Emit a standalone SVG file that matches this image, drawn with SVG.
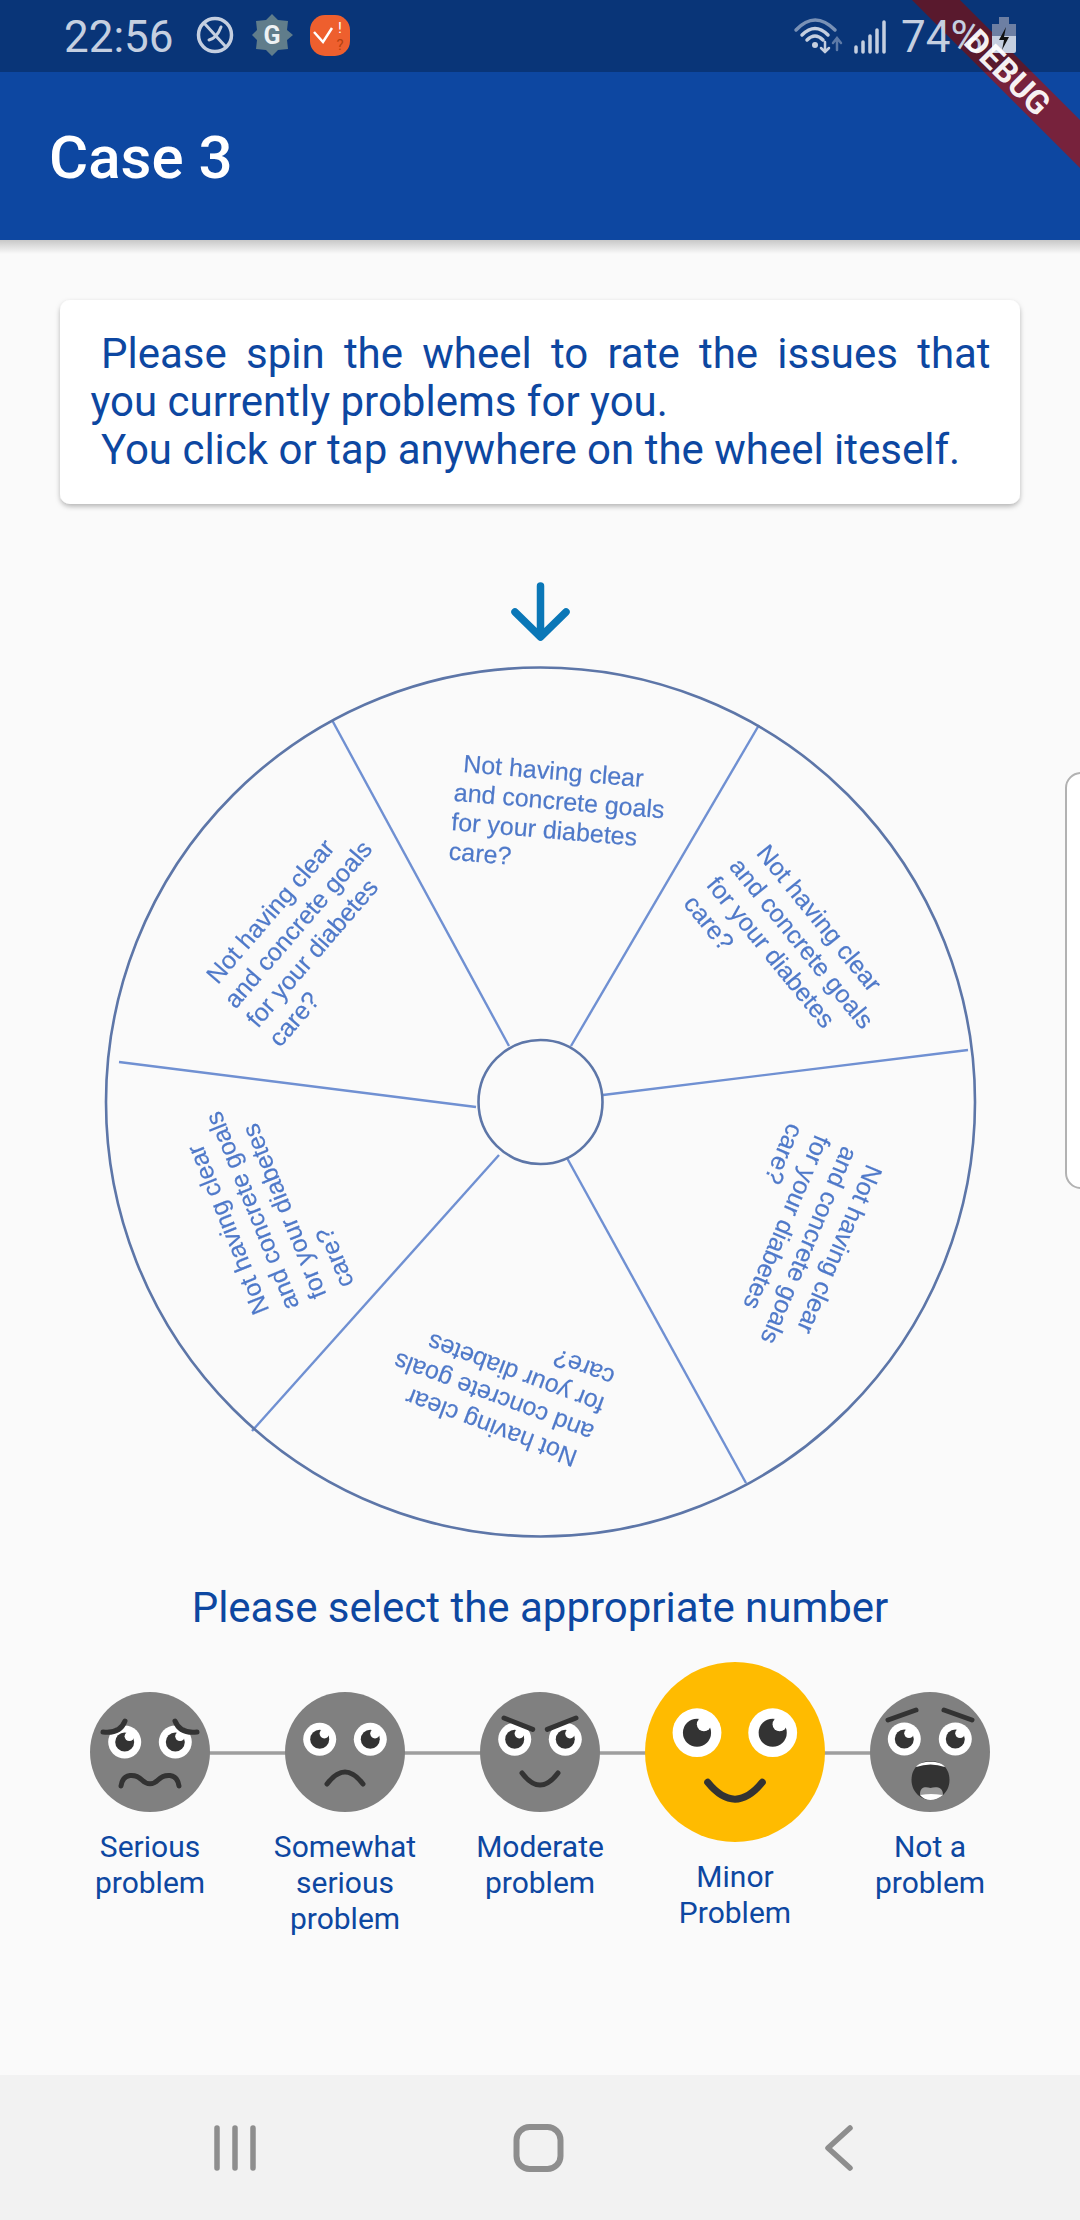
<svg xmlns="http://www.w3.org/2000/svg" xmlns:xlink="http://www.w3.org/1999/xlink" width="1080" height="2220" viewBox="0 0 1080 2220">
<style>
.r{font-family:Roboto,"Liberation Sans",sans-serif}
.card{font-size:42px;fill:#0d47a1}
.lbl{font-size:30px;fill:#0d47a1;text-anchor:middle}
.wt{font-family:"Liberation Sans",Arial,sans-serif;font-size:25px;fill:#4f79c9;stroke:#4f79c9;stroke-width:.2}
.sp{stroke:#6f90d2;stroke-width:2.4;fill:none}
.rim{stroke:#5d76a8;stroke-width:2.6;fill:none}
.ln{stroke:#333;stroke-width:5;fill:none;stroke-linecap:round}
.st{fill:none;stroke:#c5cfe0;stroke-linecap:round}
.nav{fill:none;stroke:#8e8e8e;stroke-linecap:round;stroke-linejoin:round}
</style>
<defs>
<filter id="cardShadow" x="-5%" y="-10%" width="110%" height="125%"><feDropShadow dx="0" dy="2.5" stdDeviation="2.5" flood-color="#000" flood-opacity=".28"/></filter>
<filter id="soft" x="-3%" y="-3%" width="106%" height="106%"><feGaussianBlur stdDeviation=".5"/></filter>
<linearGradient id="barShadow" x1="0" y1="0" x2="0" y2="1"><stop offset="0" stop-color="#000" stop-opacity=".2"/><stop offset="1" stop-color="#000" stop-opacity="0"/></linearGradient>
<g id="eye"><circle r="16.5" fill="#fff"/><circle r="9.5" fill="#333"/><circle cx="4.7" cy="-5.7" r="4.8" fill="#fff"/></g>
</defs>

<rect id="background" width="1080" height="2220" fill="#fafafa"/>

<g id="app-bar">
<rect width="1080" height="240" fill="#0d47a1"/>
<rect y="240" width="1080" height="14" fill="url(#barShadow)"/>
<text class="r" x="49" y="178" font-size="60" font-weight="500" fill="#fff">Case 3</text>
</g>

<g id="debug-banner">
<polygon points="912,0 960,0 1080,120 1080,168" fill="#b01006" fill-opacity=".65"/>
</g>

<rect id="status-bar" width="1080" height="72" fill="#000" fill-opacity=".25"/>

<g id="status-icons">
<text class="r" x="64" y="52" font-size="44" fill="#c5cfe0">22:56</text>
<circle class="st" cx="215" cy="35" r="16.5" stroke-width="3.5"/>
<path class="st" d="M204,23 L226,47 M209,40 Q217,38 221,27" stroke-width="3"/>
<path d="M272,14 L278,20 L288,21 L287,30 L293,35 L287,40 L288,49 L278,50 L272,56 L266,50 L256,49 L257,40 L252,35 L257,30 L256,21 L266,20Z" fill="#607d8b"/>
<text x="272" y="44" font-family="Roboto,sans-serif" font-weight="700" font-size="25" fill="#eef2f4" text-anchor="middle">G</text>
<rect x="310" y="15" width="40" height="41" rx="15" fill="#ee5f2e"/>
<path d="M314,32 L323,42 L332,28" fill="none" stroke="#fff" stroke-width="2.5"/>
<text x="340" y="33" font-family="Roboto,sans-serif" font-size="15" fill="#fff" text-anchor="middle">!</text>
<text x="340" y="50" font-family="Roboto,sans-serif" font-size="15" fill="#b5410f" text-anchor="middle">?</text>
<path d="M796,30 Q815,10 835,30" class="st" stroke-width="3.5" stroke-opacity=".6"/>
<path d="M802,35 Q815,22 828,35 M807,40 Q815,32 823,40" class="st" stroke-width="3.5"/>
<circle cx="815" cy="45" r="3" fill="#c5cfe0"/>
<path class="st" d="M825,42 V52 M821,48 L825,52 L829,48" stroke-width="2.5"/>
<path class="st" d="M837,50 V40 M833,43 L837,38 L841,43" stroke-width="2.5" stroke-opacity=".45"/>
<path class="st" d="M856,52 V47 M863,52 V42 M870,52 V36 M877,52 V30 M884,52 V22" stroke-width="3.5"/>
<text class="r" x="901" y="52" font-size="44" fill="#c5cfe0">74%</text>
<rect x="992" y="24" width="24" height="29" rx="2" fill="#c5cfe0"/>
<rect x="999" y="17" width="10" height="8" fill="#6d7fa3"/>
<rect x="992" y="24" width="24" height="12" fill="#6d7fa3"/>
<path d="M1006,27 L999,40 L1004,40 L1002,50 L1009,37 L1004,37Z" fill="#111"/>
</g>

<text id="debug-label" transform="translate(1008,72) rotate(45)" x="0" y="12" font-family="Roboto,sans-serif" font-weight="700" font-size="33" fill="#fff" fill-opacity=".95" text-anchor="middle">DEBUG</text>

<g id="instruction-card">
<rect x="60" y="300" width="960" height="204" rx="10" fill="#fff" filter="url(#cardShadow)"/>
<text class="r card" x="101" y="368" word-spacing="8.8">Please spin the wheel to rate the issues that</text>
<text class="r card" x="90.5" y="416">you currently problems for you.</text>
<text class="r card" x="101" y="464">You click or tap anywhere on the wheel iteself.</text>
</g>

<g id="side-handle"><rect x="1066" y="773" width="40" height="415" rx="15" fill="#fff" stroke="#b2b2b2" stroke-width="2"/></g>

<g id="pointer-arrow"><path d="M540.5,586 V636 M515,612 L540.5,637 L566,612" fill="none" stroke="#0a77b7" stroke-width="7.5" stroke-linecap="round" stroke-linejoin="round"/></g>

<g id="wheel" filter="url(#soft)">
<g id="wheel-spokes">
<line class="sp" x1="571" y1="1046" x2="759" y2="725"/>
<line class="sp" x1="603" y1="1095" x2="968" y2="1050"/>
<line class="sp" x1="567" y1="1158" x2="746" y2="1483"/>
<line class="sp" x1="499" y1="1155" x2="252" y2="1431"/>
<line class="sp" x1="476" y1="1107" x2="119" y2="1062"/>
<line class="sp" x1="509" y1="1046" x2="332" y2="720"/>
</g>
<circle id="wheel-rim" class="rim" cx="540.5" cy="1102" r="434.5"/>
<circle id="wheel-hub" class="rim" cx="540.5" cy="1102" r="62"/>
<g id="segment-1" transform="translate(453.3,800.7) rotate(4.8)"><text class="wt"><tspan x="7" y="-29.5">Not having clear</tspan><tspan x="0" y="0">and concrete goals</tspan><tspan x="0" y="29.5">for your diabetes</tspan><tspan x="0" y="59">care?</tspan></text></g>
<g id="segment-2" transform="translate(728.3,866.7) rotate(50.8)"><text class="wt"><tspan x="7" y="-29.5">Not having clear</tspan><tspan x="0" y="0">and concrete goals</tspan><tspan x="0" y="29.5">for your diabetes</tspan><tspan x="0" y="59">care?</tspan></text></g>
<g id="segment-3" transform="translate(842.7,1145) rotate(113)"><text class="wt"><tspan x="7" y="-29.5">Not having clear</tspan><tspan x="0" y="0">and concrete goals</tspan><tspan x="0" y="29.5">for your diabetes</tspan><tspan x="0" y="59">care?</tspan></text></g>
<g id="segment-4" transform="translate(595.6,1426) rotate(200.5)"><text class="wt"><tspan x="7" y="-29.5">Not having clear</tspan><tspan x="0" y="0">and concrete goals</tspan><tspan x="0" y="29.5">for your diabetes</tspan><tspan x="0" y="59">care?</tspan></text></g>
<g id="segment-5" transform="translate(299.5,1305.7) rotate(248)"><text class="wt"><tspan x="7" y="-29.5">Not having clear</tspan><tspan x="0" y="0">and concrete goals</tspan><tspan x="0" y="29.5">for your diabetes</tspan><tspan x="0" y="59">care?</tspan></text></g>
<g id="segment-6" transform="translate(235.4,1009.7) rotate(310.8)"><text class="wt"><tspan x="7" y="-29.5">Not having clear</tspan><tspan x="0" y="0">and concrete goals</tspan><tspan x="0" y="29.5">for your diabetes</tspan><tspan x="0" y="59">care?</tspan></text></g>
</g>

<text id="prompt" class="r" x="540" y="1622" font-size="42" fill="#0d47a1" text-anchor="middle">Please select the appropriate number</text>

<g id="connectors"><line x1="150" y1="1753" x2="930" y2="1753" stroke="#9e9e9e" stroke-width="3.5"/></g>

<g id="face-serious">
<circle cx="150" cy="1752" r="60" fill="#808080"/>
<use xlink:href="#eye" href="#eye" x="124.7" y="1742"/><use xlink:href="#eye" href="#eye" x="175.3" y="1742"/>
<path class="ln" d="M103,1732 Q120,1734 125,1721 M197,1732 Q180,1734 175,1721"/>
<path class="ln" d="M121,1786 C123,1772 136,1774 142,1780 C147,1785 153,1785 158,1780 C164,1774 177,1772 179,1786"/>
<text class="r lbl" x="150" y="1857">Serious</text><text class="r lbl" x="150" y="1893">problem</text>
</g>
<g id="face-somewhat">
<circle cx="345" cy="1752" r="60" fill="#808080"/>
<use xlink:href="#eye" href="#eye" x="319.7" y="1739.3"/><use xlink:href="#eye" href="#eye" x="370.3" y="1739.3"/>
<path class="ln" d="M327,1784 Q345,1760 363,1784"/>
<text class="r lbl" x="345" y="1857">Somewhat</text><text class="r lbl" x="345" y="1893">serious</text><text class="r lbl" x="345" y="1929">problem</text>
</g>
<g id="face-moderate">
<circle cx="540" cy="1752" r="60" fill="#808080"/>
<use xlink:href="#eye" href="#eye" x="514.7" y="1739.3"/><use xlink:href="#eye" href="#eye" x="565.3" y="1739.3"/>
<path class="ln" d="M504,1718 L532.7,1729.3 M576,1718 L547.3,1729.3"/>
<path class="ln" d="M522,1773 Q540,1797 558,1773"/>
<text class="r lbl" x="540" y="1857">Moderate</text><text class="r lbl" x="540" y="1893">problem</text>
</g>
<g id="face-minor">
<circle cx="735" cy="1752" r="90" fill="#ffbb00"/>
<use xlink:href="#eye" href="#eye" transform="translate(697,1732.7) scale(1.48)"/><use xlink:href="#eye" href="#eye" transform="translate(772.7,1732.7) scale(1.48)"/>
<path class="ln" style="stroke-width:7" d="M707.7,1782.3 Q735,1816 762.3,1782.3"/>
<text class="r lbl" x="735" y="1887">Minor</text><text class="r lbl" x="735" y="1923">Problem</text>
</g>
<g id="face-not">
<circle cx="930" cy="1752" r="60" fill="#808080"/>
<use xlink:href="#eye" href="#eye" x="904.3" y="1739"/><use xlink:href="#eye" href="#eye" x="955.3" y="1739"/>
<path class="ln" d="M888,1720 L916,1710 M944,1710 L972,1720"/>
<path d="M911.5,1780 C911.5,1766 922,1761 930.5,1761 C939,1761 949.5,1766 949.5,1780 C949.5,1792 940,1800 930.5,1800 C921,1800 911.5,1792 911.5,1780Z" fill="#333"/>
<path d="M916,1767 C920,1760 941,1760 945,1767 Q930.5,1762 916,1767Z" fill="#fff"/>
<path d="M920,1795 C920,1786 926,1787 930.5,1788 C935,1787 943,1786 943,1795 Q930.5,1794 920,1795Z" fill="#9a9a9a"/>
<path d="M920,1795 Q930.5,1793 943,1795 Q937,1800 930.5,1800 Q924,1800 920,1795Z" fill="#fff"/>
<text class="r lbl" x="930" y="1857">Not a</text><text class="r lbl" x="930" y="1893">problem</text>
</g>

<g id="nav-bar">
<rect y="2075" width="1080" height="145" fill="#f2f2f2"/>
<path class="nav" d="M217,2128 V2168 M235,2128 V2168 M253,2128 V2168" stroke-width="5.5"/>
<rect class="nav" x="516.5" y="2127" width="44" height="42" rx="13" stroke-width="6"/>
<path class="nav" d="M850,2128 L828,2148 L850,2168" stroke-width="5.5"/>
</g>
</svg>
